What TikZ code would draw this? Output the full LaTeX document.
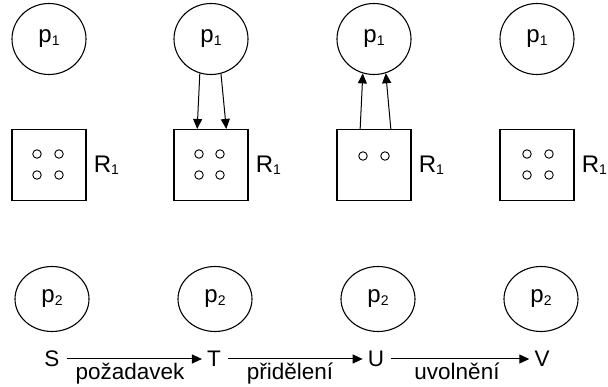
\documentclass[tikz,border=0pt]{standalone}
\usepackage{fontspec}
\setmainfont{Liberation Sans}
\usetikzlibrary{arrows.meta,shapes.geometric}
\newcommand\lowsub[1]{\raisebox{-2.5pt}{\fontsize{14}{15}\selectfont #1}}
\begin{document}
\begin{tikzpicture}[x=1pt,y=-1pt,
  every node/.style={font=\fontsize{22.5}{25}\selectfont},
  big/.style={font=\fontsize{24}{26}\selectfont},
  proc/.style={draw, ellipse, big, line width=1.1pt, minimum width=74pt, minimum height=71pt, inner sep=0pt},
  procb/.style={draw, ellipse, big, line width=1.1pt, minimum width=74pt, minimum height=65pt, inner sep=0pt},
  res/.style={draw, rectangle, line width=1.1pt, minimum width=74pt, minimum height=71pt, inner sep=0pt},
  unit/.style={draw, circle, line width=0.9pt, minimum size=8.5pt, inner sep=0pt},
  rlabel/.style={anchor=west, big, inner sep=0pt},
  state/.style={inner sep=0pt},
  elabel/.style={anchor=base, inner sep=0pt},
  arr/.style={line width=1pt, -{Triangle[length=10pt,width=9pt]}}]
\useasboundingbox (0,0) rectangle (608,387);

% top processes p1
\node[proc] (PA) at (49,39) {p\lowsub{1}};
\node[proc] (PB) at (211,39) {p\lowsub{1}};
\node[proc] (PC) at (374,39) {p\lowsub{1}};
\node[proc] (PD) at (537,39) {p\lowsub{1}};

% resources
\node[res] (RA) at (49,165) {};
\node[res] (RB) at (211,165) {};
\node[res] (RC) at (374,165) {};
\node[res] (RD) at (537,165) {};

\node[rlabel] (LA) at ([xshift=7pt]RA.east) {R\lowsub{1}};
\node[rlabel] (LB) at ([xshift=7pt]RB.east) {R\lowsub{1}};
\node[rlabel] (LC) at ([xshift=7pt]RC.east) {R\lowsub{1}};
\node[rlabel] (LD) at ([xshift=7pt]RD.east) {R\lowsub{1}};

% resource units
\node[unit] (a1) at (37,154) {};
\node[unit] (a2) at (59,154) {};
\node[unit] (a3) at (37,175) {};
\node[unit] (a4) at (59,175) {};

\node[unit] (b1) at (199,154) {};
\node[unit] (b2) at (220,154) {};
\node[unit] (b3) at (199,175) {};
\node[unit] (b4) at (220,175) {};

\node[unit] (c1) at (363,156) {};
\node[unit] (c2) at (385,156) {};

\node[unit] (d1) at (527,154) {};
\node[unit] (d2) at (549,154) {};
\node[unit] (d3) at (527,175) {};
\node[unit] (d4) at (549,175) {};

% request edges (p1 -> R1)
\draw[arr] (PB.252) -- (RB.111.5);
\draw[arr] (PB.286) -- (RB.67);
% assignment edges (R1 -> p1)
\draw[arr] (RC.111.5) -- (PC.252);
\draw[arr] (RC.65.7) -- (PC.289.7);

% bottom processes p2
\node[procb] (QA) at (52,299) {p\lowsub{2}};
\node[procb] (QB) at (215,299) {p\lowsub{2}};
\node[procb] (QC) at (378,299) {p\lowsub{2}};
\node[procb] (QD) at (541,299) {p\lowsub{2}};

% states
\node[state] (S) at (52,359) {S};
\node[state] (T) at (214,359) {T};
\node[state] (U) at (376,359) {U};
\node[state] (V) at (542,359) {V};

\draw[arr, shorten <=7pt, shorten >=5pt] (S) -- (T);
\draw[arr, shorten <=7pt, shorten >=5pt] (T) -- (U);
\draw[arr, shorten <=7pt, shorten >=5pt] (U) -- (V);

\node[elabel] (e1) at (130,380) {požadavek};
\node[elabel] (e2) at (290,380) {přidělení};
\node[elabel] (e3) at (457,380) {uvolnění};
\end{tikzpicture}
\end{document}
